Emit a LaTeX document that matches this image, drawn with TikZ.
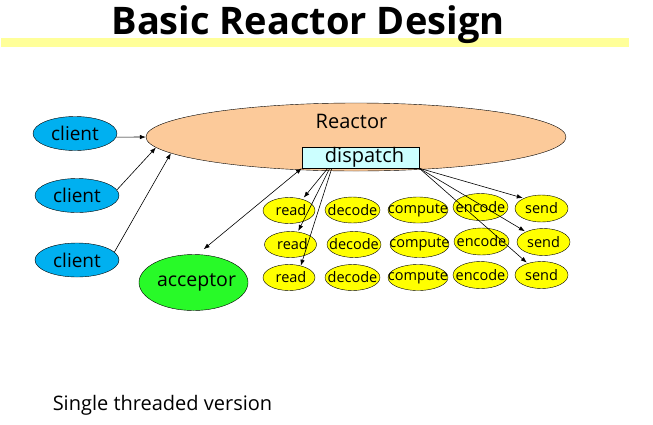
\documentclass[tikz,border=0pt]{standalone}
\usepackage{fontspec}
\setmainfont{Open Sans}
\usetikzlibrary{shapes.geometric,arrows.meta,calc}
\definecolor{clientblue}{RGB}{0,176,240}
\definecolor{reactorpeach}{RGB}{252,202,154}
\definecolor{dispcyan}{RGB}{204,255,255}
\definecolor{accgreen}{RGB}{40,250,40}
\definecolor{taskyellow}{RGB}{255,255,0}
\definecolor{baryellow}{RGB}{255,255,153}
\newcommand\zw[1]{\makebox[0pt]{#1}}
\tikzset{
  clientnode/.style={ellipse, draw=black, fill=clientblue, inner sep=0pt,
    minimum width=84pt, minimum height=34pt, font=\fontsize{19}{22}\selectfont},
  tasknode/.style={ellipse, draw=black, fill=taskyellow, inner sep=0pt,
    minimum height=26pt, font=\fontsize{14.5}{16}\selectfont},
  conn/.style={draw=black, line width=0.6pt, -{Latex[length=6pt,width=4.5pt]}},
}
\begin{document}
\begin{tikzpicture}[x=1pt,y=-1pt]
\useasboundingbox (0,0) rectangle (653,424);
\fill[baryellow] (1,38) rectangle (629,47);
\node[font=\bfseries\fontsize{38}{44}\selectfont, anchor=base] (title) at (308,34) {Basic Reactor Design};

% reactor
\node[ellipse, draw=black, fill=reactorpeach, minimum width=420pt, minimum height=68pt, inner sep=0pt] (reactor) at (356,137) {};
\node[font=\fontsize{20}{24}\selectfont] (reactorlbl) at (351.5,121) {Reactor};
\node[draw=black, fill=dispcyan, minimum width=117pt, minimum height=21pt, inner sep=0pt,
  font=\fontsize{20}{24}\selectfont] (dispatch) at (360.5,157.5) {\hspace*{8pt}dispatch};

% clients
\node[clientnode] (c1) at (75,133.5) {\zw{client}};
\node[clientnode] (c2) at (77,195.5) {\zw{client}};
\node[clientnode] (c3) at (77,260) {\zw{client}};

% acceptor
\node[ellipse, draw=black, fill=accgreen, minimum width=109pt, minimum height=56pt, inner sep=0pt,
  font=\fontsize{19.5}{22}\selectfont] (acceptor) at (193.5,282.5) {\zw{\hspace*{6pt}acceptor}};

% tasks
\node[tasknode, minimum width=52pt] (r1) at (289,210.5) {\zw{\hspace*{4pt}read}};
\node[tasknode, minimum width=52pt] (r2) at (290.5,244.5) {\zw{\hspace*{4pt}read}};
\node[tasknode, minimum width=52pt] (r3) at (289,277.5) {\zw{\hspace*{4pt}read}};
\node[tasknode, minimum width=55pt] (d1) at (352.5,210) {\zw{decode}};
\node[tasknode, minimum width=54pt] (d2) at (354,244.5) {\zw{decode}};
\node[tasknode, minimum width=55pt] (d3) at (352.5,277.5) {\zw{decode}};
\node[tasknode, minimum width=60pt] (p1) at (418,210) {\zw{compute}};
\node[tasknode, minimum width=59pt] (p2) at (419.5,244.5) {\zw{compute}};
\node[tasknode, minimum width=60pt] (p3) at (418,277.5) {\zw{compute}};
\node[tasknode, minimum width=55pt, minimum height=27pt] (e1) at (480.5,207) {\zw{encode}};
\node[tasknode, minimum width=55pt, minimum height=27pt] (e2) at (481.5,241.5) {\zw{encode}};
\node[tasknode, minimum width=55pt, minimum height=27pt] (e3) at (480.5,275) {\zw{encode}};
\node[tasknode, minimum width=53pt, minimum height=27pt] (s1) at (541.5,208.5) {\zw{send}};
\node[tasknode, minimum width=53pt, minimum height=27pt] (s2) at (543.5,242) {\zw{send}};
\node[tasknode, minimum width=53pt, minimum height=27pt] (s3) at (541.5,275) {\zw{send}};

% client connectors
\draw[conn] (c1.-5) -- (reactor.west);
\draw[conn] (c2.8) -- (reactor.183);
\draw[conn] (c3.12) -- (reactor.185);

% dispatch <-> acceptor
\draw[conn, {Latex[length=6pt,width=4.5pt]}-{Latex[length=6pt,width=4.5pt]}, shorten >=8pt] (dispatch.south west) -- ([xshift=4pt]acceptor.north);

% dispatch -> reads
\draw[conn, shorten >=2pt] ([xshift=26pt]dispatch.south west) -- (r1.40);
\draw[conn, shorten >=1pt] ([xshift=28pt]dispatch.south west) -- (r2.60);
\draw[conn] ([xshift=30pt]dispatch.south west) -- (r3.45);

% dispatch -> sends
\draw[conn, shorten >=1pt] (dispatch.south east) -- (s1.150);
\draw[conn, shorten >=1pt] (dispatch.south east) -- (s2.150);
\draw[conn, shorten >=1pt] (dispatch.south east) -- (s3.140);

\node[font=\fontsize{20}{24}\selectfont] (caption) at (162.5,405) {Single threaded version};
\end{tikzpicture}
\end{document}
